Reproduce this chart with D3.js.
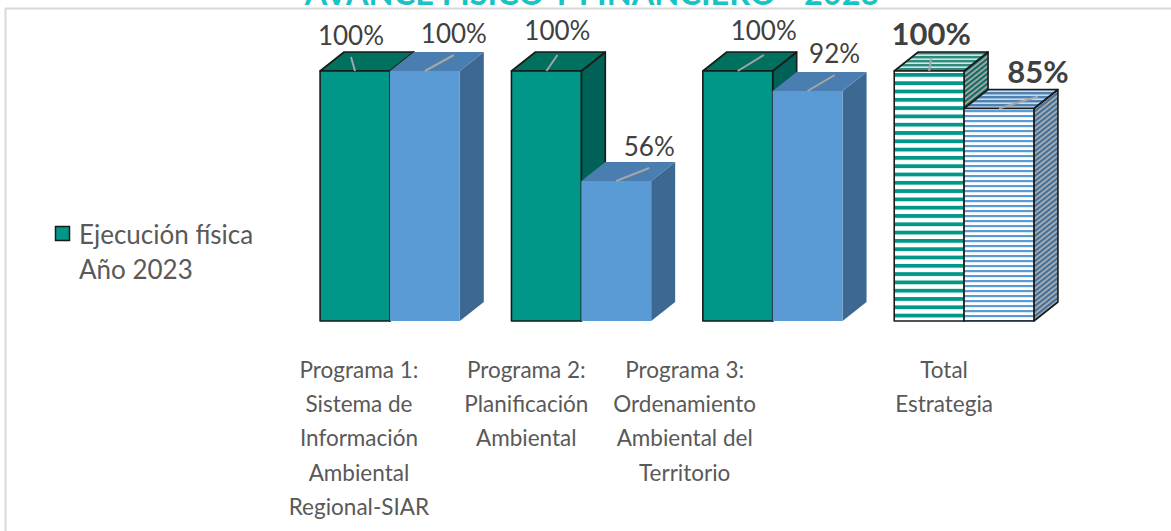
<!DOCTYPE html>
<html>
<head>
<meta charset="utf-8">
<script src="https://cdn.jsdelivr.net/npm/d3@7"></script>
<style>
  html, body { margin: 0; padding: 0; background: #ffffff; }
  svg { display: block; }
  text { font-family: Lato, "Open Sans", sans-serif; }
</style>
</head>
<body>
<svg id="chart" width="1171" height="531"></svg>
<script>
// Program categories (axis labels, one entry per wrapped line)
const categories = ["Programa 1", "Programa 2", "Programa 3", "Total"];
const categoryLines = [
  ["Programa 1:", "Sistema de", "Información", "Ambiental", "Regional-SIAR"],
  ["Programa 2:", "Planificación", "Ambiental"],
  ["Programa 3:", "Ordenamiento", "Ambiental del", "Territorio"],
  ["Total", "Estrategia"]
];
// Execution shares for 2023
const fisica = [1.00, 1.00, 1.00, 1.00];
const financiera = [1.00, 0.56, 0.92, 0.85];
const seriesNames = ["Ejecución física Año 2023", "Ejecución financiera Año 2023"];
const title = "AVANCE FÍSICO Y FINANCIERO - 2023";

// Label placement relative to the front-top centre of each bar [dx, dy]
const labelNudge = [
  [[-4, -26], [29, -28]],
  [[11, -31], [33, -25]],
  [[26, -31], [27, -28]],
  [[2, -26], [39, -26]]
];
// Axis-label centre shifts relative to the category centre
const catLabelShift = [-31, -55, -88, -20];

const svg = d3.select("#chart");
const defs = svg.append("defs");

// Frame
svg.append("line").attr("x1", 5).attr("x2", 1171).attr("y1", 8.5).attr("y2", 8.5)
  .attr("stroke", "#d9d9d9").attr("stroke-width", 2);
svg.append("line").attr("x1", 5.5).attr("x2", 5.5).attr("y1", 8).attr("y2", 531)
  .attr("stroke", "#d9d9d9").attr("stroke-width", 2);

// Title (sits at the very top edge)
const titleText = svg.append("text")
  .attr("x", 592).attr("y", 5)
  .attr("text-anchor", "middle")
  .attr("font-weight", "bold")
  .attr("font-size", 30)
  .attr("fill", "#19c3c3")
  .text(title);
{
  const w = titleText.node().getComputedTextLength();
  titleText.attr("font-size", 30 * 575 / w);
}

// Scales
const x = d3.scaleBand().domain(categories).range([294.25, 1059.75])
  .paddingInner(0.27).paddingOuter(0.135);
const y = d3.scaleLinear().domain([0, 1]).range([321, 71]);
const barW = x.bandwidth() / 2;
const DX = 24, DY = -19;

// Patterns for the total bars
function stripes(id, bg, fg, period, thick, transform) {
  const p = defs.append("pattern").attr("id", id)
    .attr("patternUnits", "userSpaceOnUse").attr("width", 10).attr("height", period);
  if (transform) p.attr("patternTransform", transform);
  p.append("rect").attr("width", 10).attr("height", period).attr("fill", bg);
  p.append("rect").attr("y", 0).attr("width", 10).attr("height", thick).attr("fill", fg);
}
stripes("tealFront", "#ffffff", "#009688", 8.3, 3.8, "translate(0,73)");
stripes("tealTop", "#cfe7e3", "#2f8b7f", 4, 2.4, null);
stripes("tealSide", "#a3a8a6", "#0e6b60", 5, 2.6, "skewY(-38.4)");
stripes("blueFront", "#ffffff", "#5b9bd5", 5, 2.2, null);
stripes("blueTop", "#c9daea", "#4f82b3", 4, 2.4, null);
stripes("blueSide", "#a7adb3", "#416e97", 5, 2.6, "skewY(-38.4)");

const solid = [
  { front: "#009688", top: "#00705f", side: "#006156", stroke: "#1a1a1a" },
  { front: "#5b9bd5", top: "#4a7db0", side: "#3c6891", stroke: "none" }
];
const hatched = [
  { front: "url(#tealFront)", top: "url(#tealTop)", side: "url(#tealSide)", stroke: "#1a1a1a" },
  { front: "url(#blueFront)", top: "url(#blueTop)", side: "url(#blueSide)", stroke: "#1a1a1a" }
];

const bars = svg.append("g");
const labels = svg.append("g");

categories.forEach((c, i) => {
  const vals = [fisica[i], financiera[i]];
  const styles = c === "Total" ? hatched : solid;
  vals.forEach((v, j) => {
    const st = styles[j];
    const x0 = x(c) + j * barW, x1 = x0 + barW;
    const yt = y(v), yb = y(0);
    const g = bars.append("g")
      .attr("stroke", st.stroke).attr("stroke-width", 1.6).attr("stroke-linejoin", "round");
    // side face
    g.append("path")
      .attr("d", `M${x1},${yb}L${x1 + DX},${yb + DY}L${x1 + DX},${yt + DY}L${x1},${yt}Z`)
      .attr("fill", st.side);
    // top face
    g.append("path")
      .attr("d", `M${x0},${yt}L${x0 + DX},${yt + DY}L${x1 + DX},${yt + DY}L${x1},${yt}Z`)
      .attr("fill", st.top);
    // front face
    g.append("rect")
      .attr("x", x0).attr("y", yt).attr("width", barW).attr("height", yb - yt)
      .attr("fill", st.front);

    // data label and leader line
    const cx = x0 + barW / 2;
    const [ndx, ndy] = labelNudge[i][j];
    const lx = cx + ndx, ly = yt + ndy;
    const bold = c === "Total";
    const endY = Math.max(ly + (bold ? 14 : 12), yt + DY + 3);
    labels.append("line")
      .attr("x1", cx).attr("y1", yt).attr("x2", lx).attr("y2", endY)
      .attr("stroke", "#a6a6a6").attr("stroke-width", 2);
    labels.append("text")
      .attr("x", lx).attr("y", ly)
      .attr("text-anchor", "middle")
      .attr("font-size", bold ? 31 : 26)
      .attr("font-weight", bold ? "bold" : "normal")
      .attr("fill", "#404040")
      .text(d3.format(".0%")(v));
  });

  // category label
  const t = svg.append("text")
    .attr("text-anchor", "middle")
    .attr("font-size", 22.5)
    .attr("fill", "#595959");
  categoryLines[i].forEach((line, k) => {
    t.append("tspan")
      .attr("x", x(c) + x.bandwidth() / 2 + catLabelShift[i])
      .attr("y", 378 + k * 34.2)
      .text(line);
  });
});

// Legend
const legend = svg.append("g");
legend.append("rect").attr("x", 55.5).attr("y", 226.5).attr("width", 14).attr("height", 14)
  .attr("fill", "#009688").attr("stroke", "#1a1a1a").attr("stroke-width", 1.5);
const lt = legend.append("text").attr("font-size", 26).attr("fill", "#595959");
const nameWords = seriesNames[0].split(" ");
lt.append("tspan").attr("x", 79).attr("y", 244).text(nameWords.slice(0, 2).join(" "));
lt.append("tspan").attr("x", 79).attr("y", 279).text(nameWords.slice(2).join(" "));
</script>
</body>
</html>
